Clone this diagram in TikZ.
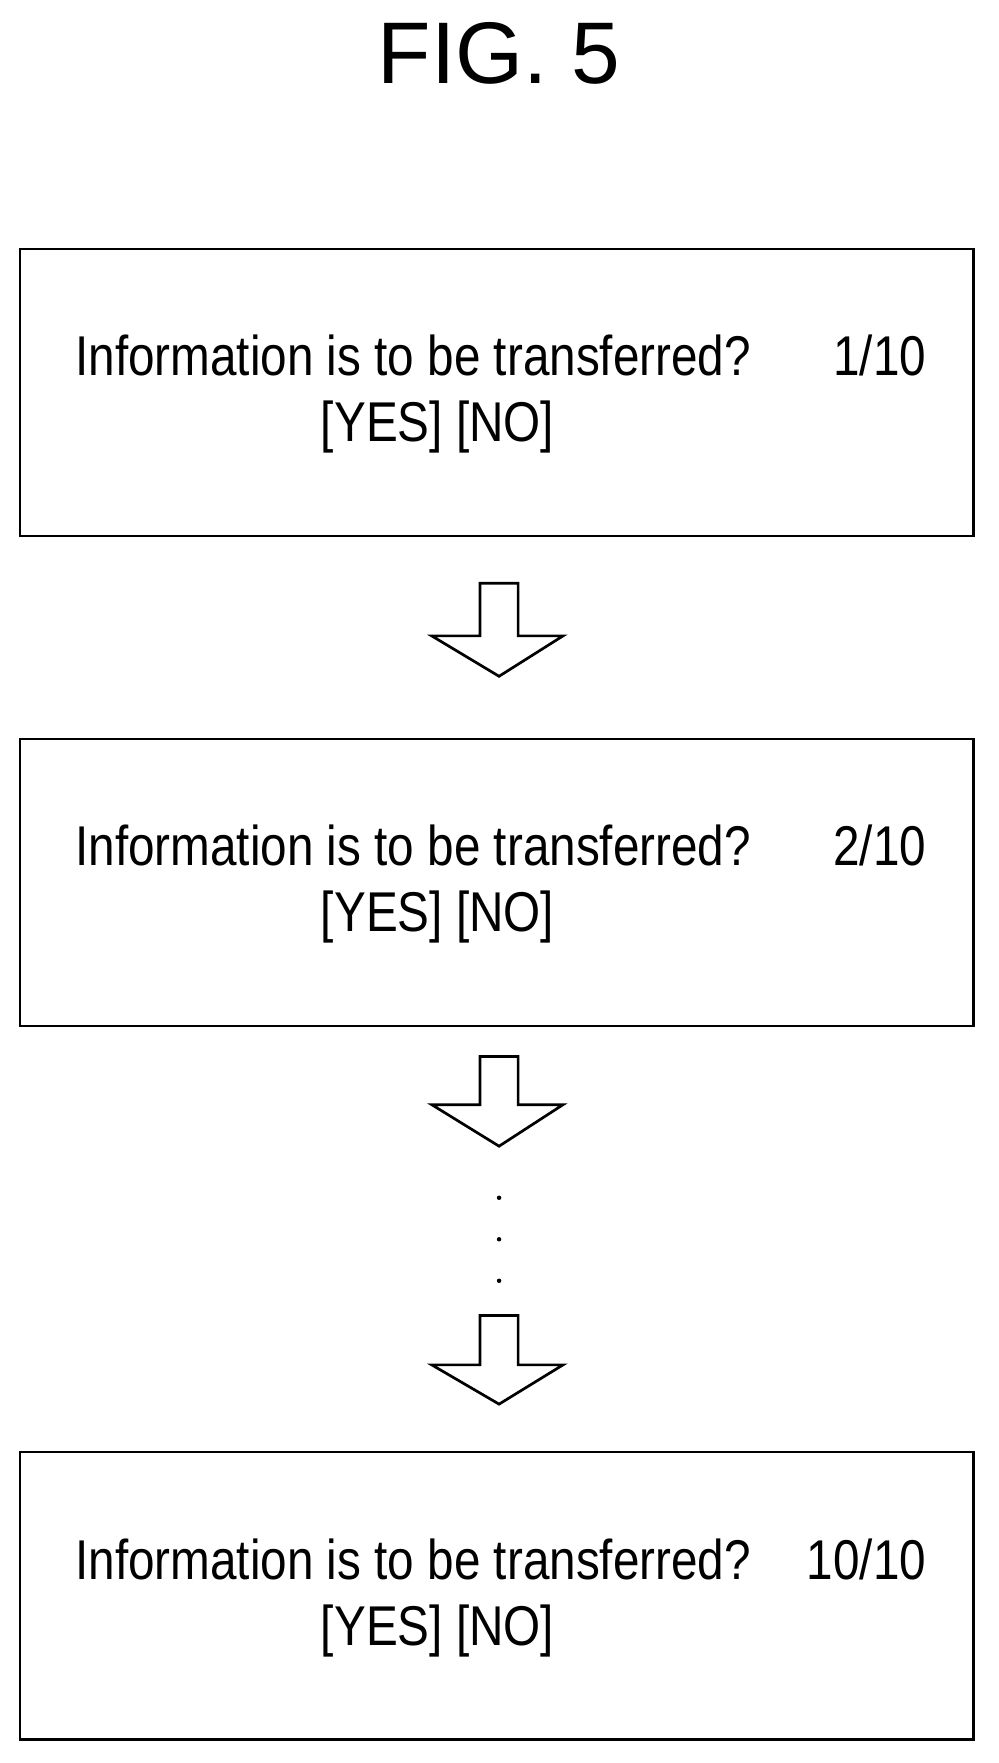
\documentclass[tikz,border=0pt]{standalone}
\usepackage{fontspec}
\setmainfont{Liberation Sans}[FakeStretch=0.85]
\newfontfamily\titlefont{Liberation Sans}
\tikzset{qbox/.style={draw, line width=2pt, minimum width=850pt, minimum height=256pt, inner sep=0pt},
         qtext/.style={font=\fontsize{50}{60}\selectfont, inner sep=0pt},
         downarrow/.style={draw, line width=2.4pt, fill=white}}
\begin{document}
\begin{tikzpicture}[x=1pt, y=1pt]
    \useasboundingbox (0,0) rectangle (890,-1572);
    \node[font=\titlefont\fontsize{78}{86}\selectfont] (title) at (445,-48) {FIG. 5};

    \node[qbox] (box1) at (443,-350) {};
    \node[qbox] (box2) at (443,-787) {};
    \node[qbox] (box3) at (443,-1423) {};

    \foreach \b/\n in {box1/1, box2/2, box3/10}{
        \node[qtext, anchor=base west] (\b q) at ([xshift=50pt, yshift=15pt]\b.west) {Information is to be transferred?};
        \node[qtext, anchor=base east] (\b n) at ([xshift=-43pt, yshift=15pt]\b.east) {\n/10};
        \node[qtext, anchor=base west] (\b a) at ([xshift=269pt, yshift=-44pt]\b.west) {[YES] [NO]};
    }

    % hollow arrows
    \foreach \t/\h/\p in {-520/-567/-603, -942/-985/-1022, -1173/-1217/-1252}{
        \draw[downarrow] (428,\t) -- (462,\t) -- (462,\h) -- (502,\h) -- (445,\p)
            -- (385,\h) -- (428,\h) -- cycle;
    }

    % dots
    \foreach \y in {-1068,-1105,-1142}{
        \fill (445,\y) circle (2pt);
    }
\end{tikzpicture}
\end{document}
